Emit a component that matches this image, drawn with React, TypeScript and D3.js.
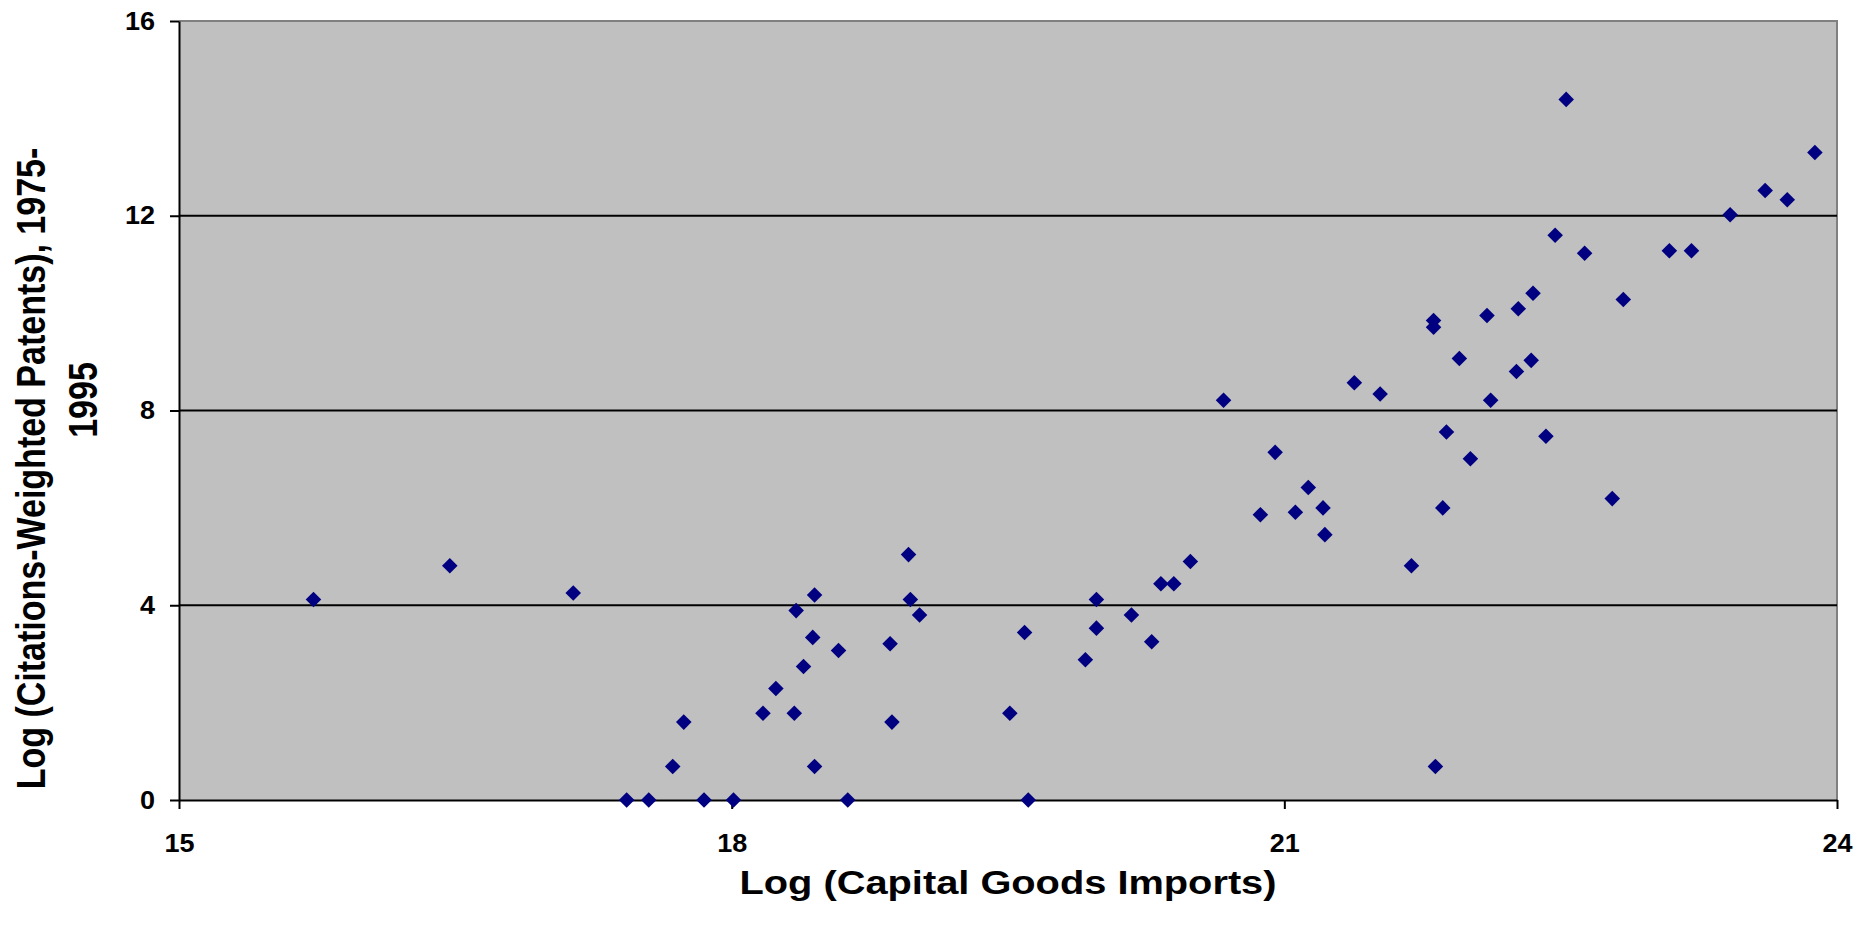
import { useRef, useEffect } from 'react'
import { select, scaleLinear, axisBottom, axisLeft, symbol, symbolSquare } from 'd3'

const Settings = {
  width: 1857,
  height: 926,
  left: 179,
  right: 1837,
  top: 21,
  bottom: 800,
  stretch: 1.17,
  tickStretch: 1.08,
  font: '"Liberation Sans", Arial, sans-serif'
}

// log capital goods imports (x) and log citations-weighted patents (y)
const importsLog = [
  15.73, 16.47, 17.14, 17.43, 17.55, 17.68, 17.74, 17.85, 18.01, 18.17,
  18.24, 18.34, 18.35, 18.39, 18.44, 18.45, 18.45, 18.58, 18.63, 18.86,
  18.87, 18.96, 18.97, 19.02, 19.51, 19.59, 19.61, 19.92, 19.98, 19.98,
  20.17, 20.28, 20.33, 20.40, 20.49, 20.67, 20.87, 20.95, 21.06, 21.13,
  21.21, 21.22, 21.38, 21.52, 21.69, 21.81, 21.81, 21.82, 21.86, 21.88,
  21.95, 22.01, 22.10, 22.12, 22.26, 22.27, 22.34, 22.35, 22.42, 22.47,
  22.53, 22.63, 22.78, 22.84, 23.09, 23.21, 23.42, 23.61, 23.73, 23.88
]
const patentsLog = [
  4.12, 4.81, 4.25, 0, 0, 0.69, 1.60, 0, 0, 1.78,
  2.29, 1.78, 3.89, 2.74, 3.34, 4.21, 0.69, 3.07, 0, 3.21,
  1.60, 5.04, 4.12, 3.80, 1.78, 3.44, 0, 2.88, 3.53, 4.12,
  3.80, 3.25, 4.44, 4.44, 4.90, 8.21, 5.86, 7.14, 5.91, 6.42,
  6.00, 5.45, 8.57, 8.34, 4.81, 9.85, 9.71, 0.69, 6.00, 7.56,
  9.07, 7.01, 9.95, 8.21, 8.80, 10.09, 9.03, 10.41, 7.47, 11.60,
  14.39, 11.23, 6.19, 10.28, 11.28, 11.28, 12.02, 12.52, 12.33, 13.30
]
const xTicks = [15, 18, 21, 24]
const yTicks = [0, 4, 8, 12, 16]
const gridValues = [4, 8, 12]
const xTitle = 'Log (Capital Goods Imports)'
const yTitleLines = ['Log (Citations-Weighted Patents), 1975-', '1995']

function App() {
  const svgRef = useRef(null)

  useEffect(() => {
    const svg = select(svgRef.current)
    svg.selectAll('*').remove()

    const xScale = scaleLinear().domain([15, 24]).range([Settings.left, Settings.right])
    const yScale = scaleLinear().domain([0, 16]).range([Settings.bottom, Settings.top])

    // plot area
    svg.append('rect')
      .attr('x', Settings.left)
      .attr('y', Settings.top)
      .attr('width', Settings.right - Settings.left)
      .attr('height', Settings.bottom - Settings.top)
      .attr('fill', '#c0c0c0')

    // gray border on top and right
    svg.append('path')
      .attr('d', `M${Settings.left},${Settings.top}H${Settings.right}V${Settings.bottom}`)
      .attr('fill', 'none')
      .attr('stroke', '#808080')
      .attr('stroke-width', 2)

    svg.selectAll('.grid')
      .data(gridValues)
      .join('line')
      .attr('class', 'grid')
      .attr('x1', Settings.left)
      .attr('x2', Settings.right)
      .attr('y1', d => yScale(d))
      .attr('y2', d => yScale(d))
      .attr('stroke', '#000')
      .attr('stroke-width', 2)

    const yAxis = svg.append('g')
      .attr('transform', `translate(${Settings.left},0)`)
      .call(axisLeft(yScale).tickValues(yTicks).tickSize(9).tickSizeOuter(0).tickPadding(15).tickFormat(d => String(d)))
    yAxis.select('.domain').attr('stroke', '#000').attr('stroke-width', 2)
    yAxis.selectAll('.tick line').attr('stroke', '#000').attr('stroke-width', 2)
    yAxis.selectAll('.tick text')
      .attr('x', -24 / Settings.tickStretch)
      .attr('transform', `scale(${Settings.tickStretch},1)`)
      .style('font-family', Settings.font)
      .style('font-weight', 'bold')
      .style('font-size', '25px')
      .style('fill', '#000')

    const xAxis = svg.append('g')
      .attr('transform', `translate(0,${Settings.bottom})`)
      .call(axisBottom(xScale).tickValues(xTicks).tickSize(9).tickSizeOuter(0).tickPadding(0).tickFormat(d => String(d)))
    xAxis.select('.domain').attr('stroke', '#000').attr('stroke-width', 2)
    xAxis.selectAll('.tick line').attr('stroke', '#000').attr('stroke-width', 2)
    xAxis.selectAll('.tick text')
      .attr('y', 52)
      .attr('dy', 0)
      .attr('transform', `scale(${Settings.tickStretch},1)`)
      .style('font-family', Settings.font)
      .style('font-weight', 'bold')
      .style('font-size', '25px')
      .style('fill', '#000')

    // diamond markers
    const diamond = symbol().type(symbolSquare).size(121)
    svg.selectAll('.point')
      .data(importsLog.map((x, i) => [x, patentsLog[i]]))
      .join('path')
      .attr('class', 'point')
      .attr('d', diamond)
      .attr('transform', d => `translate(${xScale(d[0])},${yScale(d[1])}) rotate(45)`)
      .attr('fill', '#000080')

    // axis titles
    svg.append('text')
      .attr('transform', `translate(${(Settings.left + Settings.right) / 2},894) scale(${Settings.stretch},1)`)
      .attr('text-anchor', 'middle')
      .style('font-family', Settings.font)
      .style('font-weight', 'bold')
      .style('font-size', '34px')
      .text(xTitle)

    const yTitlePos = [[45, 468.5], [97, 400]]
    svg.selectAll('.ytitle')
      .data(yTitleLines)
      .join('text')
      .attr('class', 'ytitle')
      .attr('transform', (_, i) => `translate(${yTitlePos[i][0]},${yTitlePos[i][1]}) scale(${Settings.stretch},1) rotate(-90)`)
      .attr('text-anchor', 'middle')
      .style('font-family', Settings.font)
      .style('font-weight', 'bold')
      .style('font-size', '34px')
      .text(d => d)
  }, [])

  return (
    <div style={{ position: 'absolute', left: 0, top: 0 }}>
      <svg ref={svgRef} width={Settings.width} height={Settings.height} style={{ display: 'block', background: '#fff' }} />
    </div>
  )
}

export default App
